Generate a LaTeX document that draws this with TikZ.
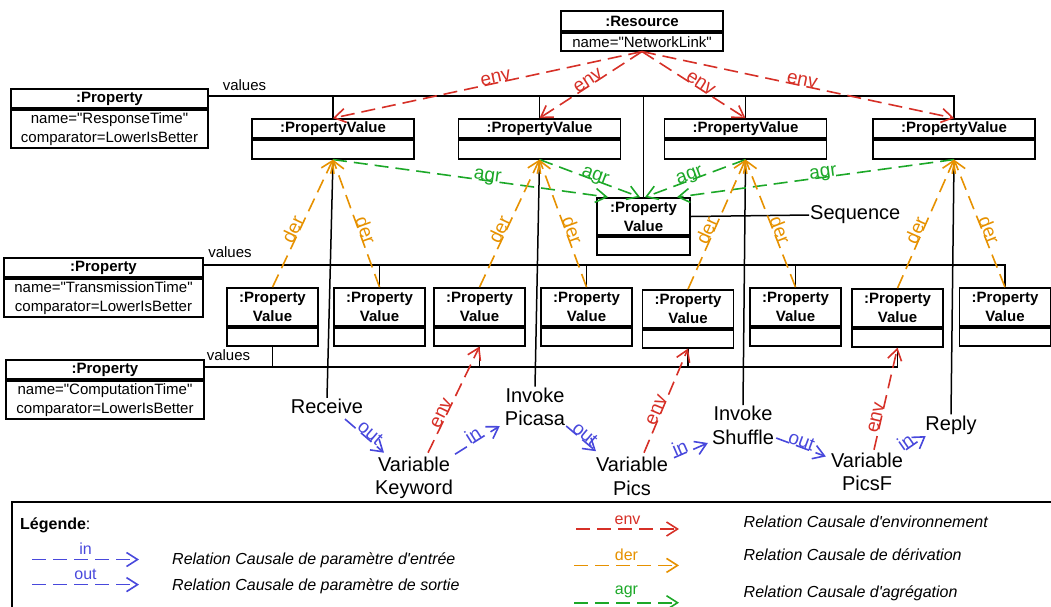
\documentclass[tikz,border=0pt]{standalone}
\usepackage{fontspec}
\setmainfont{Liberation Sans}[Ligatures=TeXOff]
\usetikzlibrary{arrows.meta,calc}
\definecolor{envc}{RGB}{214,48,39}
\definecolor{derc}{RGB}{230,145,0}
\definecolor{agrc}{RGB}{28,168,40}
\definecolor{ioc}{RGB}{72,72,220}
\newcommand\fsbox{\fontsize{15}{19}\selectfont}
\newcommand\fsact{\fontsize{20}{23.5}\selectfont}
\newcommand\fslbl{\fontsize{19}{19}\selectfont}
\newcommand\fsleg{\fontsize{16}{19}\selectfont}
\tikzset{
  hdr/.style={draw, line width=1.7pt, inner sep=0pt, align=center, font=\fsbox\bfseries},
  bdy/.style={draw, line width=1.7pt, inner sep=0pt, align=center, anchor=north, font=\fsbox},
  wire/.style={line width=1.5pt},
  act/.style={inner sep=1pt, align=center, font=\fsact},
  rel/.style={line width=1.6pt, dash pattern=on 14pt off 7pt, -{Straight Barb[length=11pt,width=14pt]}},
  envarr/.style={rel, draw=envc},
  derarr/.style={rel, draw=derc},
  agrarr/.style={rel, draw=agrc},
  ioarr/.style={rel, draw=ioc},
  lbl/.style={sloped, anchor=base, inner sep=0pt, font=\fslbl},
  leglbl/.style={above=4pt, inner sep=0pt, font=\fsleg},
  legtxt/.style={anchor=base west, inner sep=0pt, font=\fsleg\itshape},
  valtxt/.style={inner sep=0pt, font=\fsbox},
}
\begin{document}
\begin{tikzpicture}[x=1pt,y=-1pt]
\useasboundingbox (0,0) rectangle (1051,606);

% ---------- Resource ----------
\node[hdr, minimum width=162pt, minimum height=20pt] (res) at (642,21) {:Resource};
\node[bdy, minimum width=162pt, minimum height=18pt] (resb) at (res.south) {name="NetworkLink"};

% ---------- Properties ----------
\node[hdr, minimum width=197pt, minimum height=19pt] (p1) at (109.5,98.5) {:Property};
\node[bdy, minimum width=197pt, minimum height=38pt] (p1b) at (p1.south) {name="ResponseTime"\\comparator=LowerIsBetter};
\node[hdr, minimum width=199pt, minimum height=19pt] (p2) at (103.5,267.5) {:Property};
\node[bdy, minimum width=199pt, minimum height=38pt] (p2b) at (p2.south) {name="TransmissionTime"\\comparator=LowerIsBetter};
\node[hdr, minimum width=198pt, minimum height=19pt] (p3) at (105,369.5) {:Property};
\node[bdy, minimum width=198pt, minimum height=38pt] (p3b) at (p3.south) {name="ComputationTime"\\comparator=LowerIsBetter};

% ---------- top PropertyValues ----------
\foreach \n/\x in {pv1/333, pv2/539.5, pv3/745.5, pv4/954}{
  \node[hdr, minimum width=162pt, minimum height=19pt] (\n) at (\x,128.5) {:PropertyValue};
  \node[bdy, minimum width=162pt, minimum height=19pt] (\n b) at (\n.south) {};
}
% ---------- middle PropertyValue ----------
\node[hdr, minimum width=93pt, minimum height=37pt] (pvm) at (643.5,216.5) {:Property\\Value};
\node[bdy, minimum width=93pt, minimum height=18pt] (pvmb) at (pvm.south) {};

% ---------- bottom PropertyValues ----------
\foreach \n/\x/\y in {pvb1/272.5/307, pvb2/379.5/307, pvb3/479.5/307, pvb4/586.5/307, pvb5/688/309, pvb6/795.5/307, pvb7/897.5/308, pvb8/1005/307}{
  \node[hdr, minimum width=91pt, minimum height=38pt] (\n) at (\x,\y) {:Property\\Value};
  \node[bdy, minimum width=91pt, minimum height=18pt] (\n b) at (\n.south) {};
}

% ---------- values buses ----------
\coordinate (b1) at ([yshift=2.5pt]p1.east);
\coordinate (b2) at ([yshift=2.5pt]p2.east);
\coordinate (b3) at ([yshift=2.5pt]p3.east);
\node[valtxt] (v1) at (244.5,85) {values};
\node[valtxt] (v2) at (230,252.5) {values};
\node[valtxt] (v3) at (228.5,355) {values};

\draw[wire] (b1) -| (pv4.north);
\foreach \n in {pv1,pv2,pvm,pv3}{ \draw[wire] (\n.north) -- (\n.north |- b1); }
\draw[wire] (b2) -| (pvb8.north);
\foreach \n in {pvb2,pvb4,pvb6}{ \draw[wire] (\n.north) -- (\n.north |- b2); }
\draw[wire] (b3) -| (pvb7b.south);
\foreach \n in {pvb1b,pvb3b,pvb5b}{ \draw[wire] (\n.south) -- (\n.south |- b3); }

% ---------- activities and variables ----------
\node[act] (receive) at (327,406.5) {Receive};
\node[act] (picasa) at (535,407) {Invoke\\Picasa};
\node[act] (shuffle) at (743,425.5) {Invoke\\Shuffle};
\node[act] (reply) at (951,425) {Reply};
\node[act] (vk) at (414,478) {Variable\\Keyword};
\node[act] (vpics) at (632,476.5) {Variable\\Pics};
\node[act] (vpf) at (867,472) {Variable\\PicsF};
\node[act, anchor=west] (seq) at (809,215) {Sequence};

\draw[wire] (pv1b.south) -- (receive.north);
\draw[wire] (pv2b.south) -- (picasa.north);
\draw[wire] (pv3b.south) -- (shuffle.north);
\draw[wire] (pv4b.south) -- (reply.north);
\draw[wire] (pvm.east) -- (seq.west);

% ---------- env from resource ----------
\draw[envarr] (resb.south) -- node[lbl, text=envc, pos=0.47] {env} (pv1.north);
\draw[envarr] (resb.south) -- node[lbl, text=envc, pos=0.5] {env} (pv2.north);
\draw[envarr] (resb.south) -- node[lbl, text=envc, pos=0.54] {env} (pv3.north);
\draw[envarr] (resb.south) -- node[lbl, text=envc, pos=0.51] {env} (pv4.north);

% ---------- agr ----------
\draw[agrarr] (pv1b.south) -- node[lbl, text=agrc, pos=0.56] {agr} ([xshift=-35.5pt]pvm.north);
\draw[agrarr] (pv2b.south) -- node[lbl, text=agrc, pos=0.54] {agr} ([xshift=-3.5pt]pvm.north);
\draw[agrarr] (pv3b.south) -- node[lbl, text=agrc, pos=0.54] {agr} ([xshift=1.5pt]pvm.north);
\draw[agrarr] (pv4b.south) -- node[lbl, text=agrc, pos=0.47] {agr} ([xshift=33.5pt]pvm.north);

% ---------- der ----------
\draw[derarr] (pvb1.north) -- node[lbl, text=derc, pos=0.43] {der} (pv1b.south);
\draw[derarr] (pvb2.north) -- node[lbl, text=derc, pos=0.43] {der} (pv1b.south);
\draw[derarr] (pvb3.north) -- node[lbl, text=derc, pos=0.43] {der} (pv2b.south);
\draw[derarr] (pvb4.north) -- node[lbl, text=derc, pos=0.43] {der} (pv2b.south);
\draw[derarr] (pvb5.north) -- node[lbl, text=derc, pos=0.43] {der} (pv3b.south);
\draw[derarr] (pvb6.north) -- node[lbl, text=derc, pos=0.43] {der} (pv3b.south);
\draw[derarr] (pvb7.north) -- node[lbl, text=derc, pos=0.43] {der} (pv4b.south);
\draw[derarr] (pvb8.north) -- node[lbl, text=derc, pos=0.43] {der} (pv4b.south);

% ---------- env from variables ----------
\draw[envarr] ($(vk.north)+(14,-3)$) -- node[lbl, text=envc, pos=0.35] {env} (pvb3b.south);
\draw[envarr] ($(vpics.north)+(12,-3.5)$) -- node[lbl, text=envc, pos=0.39] {env} (pvb5b.south);
\draw[envarr] ($(vpf.north)+(7,-2)$) -- node[lbl, text=envc, pos=0.3] {env} (pvb7b.south);

% ---------- in / out ----------
\draw[ioarr] ($(receive.south)+(18,4)$) -- node[lbl, text=ioc, pos=0.55] {out} ($(vk.north)+(-30,-3)$);
\draw[ioarr] ($(vk.north)+(41,-1.5)$) -- node[lbl, text=ioc, pos=0.48] {in} ($(picasa.west)+(-4,19)$);
\draw[ioarr] ($(picasa.east)+(0,19)$) -- node[lbl, text=ioc, pos=0.5] {out} ($(vpics.north)+(-36,-5)$);
\draw[ioarr] ($(vpics.north)+(42,1.5)$) -- node[lbl, text=ioc, pos=0.25] {in} ($(shuffle.west)+(-3,17.5)$);
\draw[ioarr] ($(shuffle.east)+(1,12.5)$) -- node[lbl, text=ioc, pos=0.47] {out} ($(vpf.west)+(-4,-15.5)$);
\draw[ioarr] ($(vpf.north)+(39,-2)$) -- node[lbl, text=ioc, pos=0.16] {in} ($(reply.west)+(1.5,11)$);

% ---------- legend ----------
\draw[line width=1.7pt] (12,640) -- (12,502) -- (1070,502);
\node[anchor=base west, inner sep=0pt, font=\fsleg] (legtitle) at (20,529.5) {\textbf{Légende}:};

\coordinate (li1) at (32,559.5);  \coordinate (li2) at (139,559.5);
\coordinate (lo1) at (32,584.6);  \coordinate (lo2) at (139,584.6);
\coordinate (le1) at (576,529);   \coordinate (le2) at (679,529);
\coordinate (ld1) at (574,565.4); \coordinate (ld2) at (679,565.4);
\coordinate (la1) at (574,602.7); \coordinate (la2) at (679,602.7);
\draw[ioarr] (li1) -- node[leglbl, text=ioc] {in} (li2);
\draw[ioarr] (lo1) -- node[leglbl, text=ioc] {out} (lo2);
\draw[envarr] (le1) -- node[leglbl, text=envc] {env} (le2);
\draw[derarr] (ld1) -- node[leglbl, text=derc] {der} (ld2);
\draw[agrarr] (la1) -- node[leglbl, text=agrc] {agr} (la2);

\node[legtxt] (lt1) at (172,564.5) {Relation Causale de paramètre d'entrée};
\node[legtxt] (lt2) at (172,590.5) {Relation Causale de paramètre de sortie};
\node[legtxt] (lt3) at (743.5,527.8) {Relation Causale d'environnement};
\node[legtxt] (lt4) at (743.5,560) {Relation Causale de dérivation};
\node[legtxt] (lt5) at (743.5,597.3) {Relation Causale d'agrégation};
\end{tikzpicture}
\end{document}
